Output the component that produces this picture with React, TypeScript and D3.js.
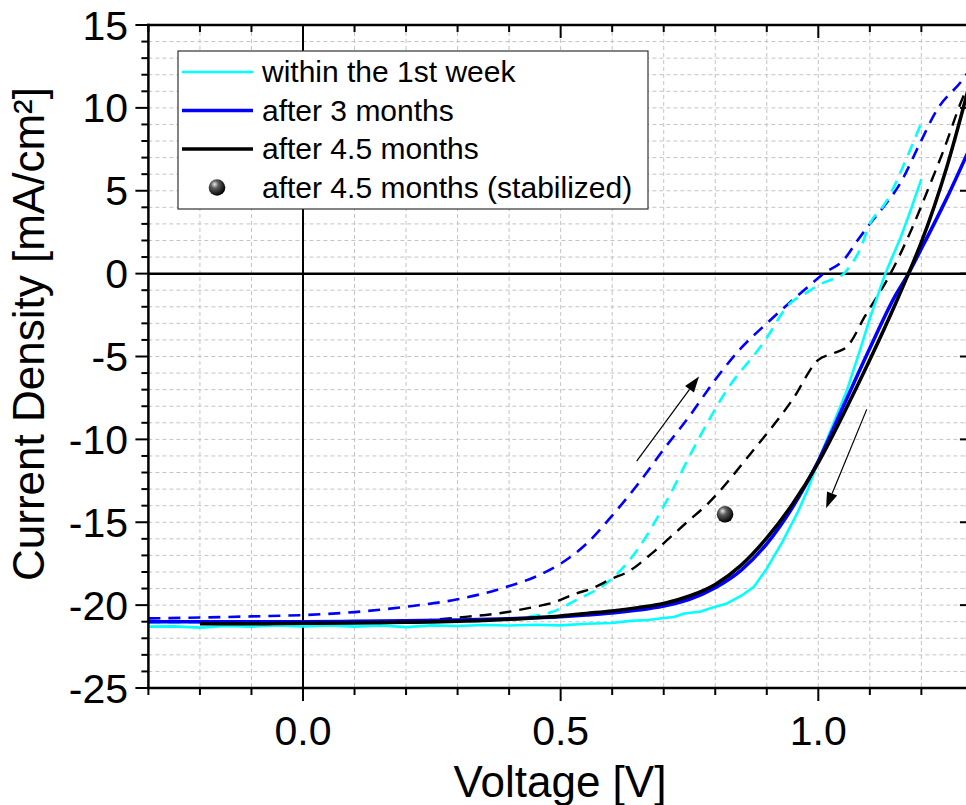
import React from "react";
import * as d3 from "d3";

// ---- data (Voltage [V], Current Density [mA/cm²]) ----
const cyanSolid: [number, number][] = [
  [-0.3, -21.3], [-0.25, -21.28], [-0.2, -21.36], [-0.15, -21.25], [-0.1, -21.3], [-0.05, -21.22],
  [0.0, -21.28], [0.05, -21.22], [0.1, -21.3], [0.15, -21.22], [0.2, -21.33], [0.25, -21.22],
  [0.3, -21.26], [0.35, -21.2], [0.4, -21.23], [0.45, -21.18], [0.5, -21.22], [0.55, -21.12],
  [0.6, -21.08], [0.635, -20.95], [0.67, -20.9], [0.7, -20.78], [0.72, -20.72], [0.74, -20.5],
  [0.77, -20.4], [0.8, -20.1], [0.82, -19.94], [0.85, -19.45], [0.875, -18.9], [0.9, -17.8],
  [0.93, -16.2], [0.96, -14.4], [0.98, -13.0], [1.0, -11.3], [1.03, -9.0], [1.056, -7.0],
  [1.08, -4.7], [1.1, -2.7], [1.13, 0.0], [1.16, 2.2], [1.18, 3.9], [1.2, 5.7],
];
const blueSolid: [number, number][] = [
  [-0.3, -21.0], [-0.2, -21.0], [-0.1, -21.0], [0.0, -21.0], [0.1, -20.98], [0.2, -20.95],
  [0.3, -20.9], [0.4, -20.82], [0.5, -20.7], [0.55, -20.6], [0.6, -20.48], [0.65, -20.3],
  [0.7, -20.05], [0.75, -19.65], [0.8, -18.95], [0.85, -17.9], [0.9, -16.3], [0.95, -14.1],
  [1.0, -11.3], [1.05, -7.9], [1.1, -4.5], [1.15, -1.3], [1.175, 0.0], [1.2, 1.5],
  [1.25, 4.6], [1.3, 8.0],
];
const blackSolid: [number, number][] = [
  [-0.2, -21.12], [-0.1, -21.12], [0.0, -21.1], [0.1, -21.08], [0.2, -21.04], [0.3, -20.98],
  [0.4, -20.85], [0.5, -20.65], [0.55, -20.5], [0.6, -20.35], [0.65, -20.15], [0.7, -19.9],
  [0.75, -19.45], [0.8, -18.75], [0.85, -17.6], [0.9, -15.95], [0.95, -13.9], [1.0, -11.4],
  [1.05, -8.4], [1.1, -5.2], [1.15, -1.8], [1.175, 0.0], [1.2, 1.9], [1.25, 6.5], [1.3, 12.2],
];
const blueDashed: [number, number][] = [
  [-0.3, -20.8], [-0.2, -20.75], [-0.1, -20.68], [0.0, -20.6], [0.1, -20.42], [0.2, -20.1],
  [0.3, -19.65], [0.35, -19.3], [0.4, -18.85], [0.45, -18.3], [0.5, -17.5], [0.55, -16.3],
  [0.6, -14.6], [0.65, -12.7], [0.7, -10.6], [0.75, -8.6], [0.8, -6.4], [0.85, -4.5],
  [0.9, -3.0], [0.95, -1.6], [0.98, -0.8], [1.01, 0.0], [1.05, 0.85], [1.076, 2.0],
  [1.1, 3.0], [1.126, 4.0], [1.159, 5.45], [1.197, 7.85], [1.23, 9.87], [1.28, 11.7], [1.3, 12.6],
];
const cyanDashed: [number, number][] = [
  [-0.3, -21.05], [0.0, -21.05], [0.3, -21.0], [0.4, -20.85], [0.45, -20.65], [0.48, -20.45],
  [0.53, -19.7], [0.6, -18.4], [0.648, -16.7], [0.706, -13.7], [0.757, -10.6],
  [0.823, -7.0], [0.893, -4.2], [0.945, -1.8], [0.98, -1.1], [1.0, -0.7], [1.03, -0.3],
  [1.05, 0.0], [1.06, 0.4], [1.08, 1.4], [1.1, 3.0], [1.13, 4.25], [1.178, 7.45], [1.2, 9.1],
];
const blackDashed: [number, number][] = [
  [-0.2, -21.1], [0.0, -21.1], [0.1, -21.05], [0.2, -21.0], [0.3, -20.75], [0.4, -20.4],
  [0.45, -20.1], [0.48, -19.9], [0.53, -19.3], [0.56, -19.0], [0.6, -18.4], [0.63, -18.0],
  [0.68, -16.8], [0.745, -15.0], [0.785, -13.9], [0.87, -10.8], [0.95, -7.6], [1.0, -5.2],
  [1.03, -4.8], [1.056, -4.4], [1.09, -2.6], [1.14, 0.0], [1.18, 2.6], [1.217, 5.4],
  [1.245, 7.6], [1.275, 10.2], [1.3, 12.0],
];
const stabilizedPoint: [number, number][] = [[0.819, -14.52]];
const arrowUp: [number, number][] = [[0.6476, -11.31], [0.7685, -6.2]];
const arrowDown: [number, number][] = [[1.094, -8.19], [1.015, -14.16]];

const xMajorTicks = [0, 0.5, 1.0];
const xTickLabels = ["0.0", "0.5", "1.0"];
const xMinorTicks = d3.range(-3, 14).map((i) => i / 10);
const yMajorTicks = [-25, -20, -15, -10, -5, 0, 5, 10, 15];
const yTickLabels = ["-25", "-20", "-15", "-10", "-5", "0", "5", "10", "15"];
const yMinorTicks = d3.range(-25, 16);

const legendLabels = [
  "within the 1st week",
  "after 3 months",
  "after 4.5 months",
  "after 4.5 months (stabilized)",
];

const FONT = "'Liberation Sans', Arial, Helvetica, sans-serif";

export default function App() {
  const left = 148.4;
  const right = 972.9;
  const top = 25;
  const bottom = 688;
  const x = d3.scaleLinear().domain([-0.3, 1.3]).range([left, right]);
  const y = d3.scaleLinear().domain([-25, 15]).range([bottom, top]);
  const line = d3
    .line<[number, number]>()
    .x((d) => x(d[0]))
    .y((d) => y(d[1]))
    .curve(d3.curveMonotoneX);
  const rawLine = d3
    .line<[number, number]>()
    .x((d) => x(d[0]))
    .y((d) => y(d[1]));

  const gridColor = "#c4c4c4";
  const dash = "12,8";

  const arrow = (pts: [number, number][], key: string) => {
    const [x0, y0] = [x(pts[0][0]), y(pts[0][1])];
    const [x1, y1] = [x(pts[1][0]), y(pts[1][1])];
    const ang = Math.atan2(y1 - y0, x1 - x0);
    const L = 16, W = 5.5;
    const bx = x1 - L * Math.cos(ang), by = y1 - L * Math.sin(ang);
    const px = -Math.sin(ang), py = Math.cos(ang);
    const head = `M${x1},${y1} L${bx + W * px},${by + W * py} L${bx - W * px},${by - W * py} Z`;
    return (
      <g key={key}>
        <line x1={x0} y1={y0} x2={bx} y2={by} stroke="#000" strokeWidth={1.2} />
        <path d={head} fill="#000" />
      </g>
    );
  };

  const legendX = 178, legendY = 51, legendW = 470, legendH = 158;
  const rowY = [72, 110.5, 149, 187.5];

  return (
    <svg
      width={966}
      height={805}
      style={{ position: "fixed", left: 0, top: 0, background: "#fff" }}
      fontFamily={FONT}
    >
      <defs>
        <radialGradient id="sphere" cx="0.38" cy="0.35" r="0.65" fx="0.35" fy="0.3">
          <stop offset="0" stopColor="#e8e8e8" />
          <stop offset="0.35" stopColor="#606060" />
          <stop offset="1" stopColor="#000" />
        </radialGradient>
        <clipPath id="plotClip">
          <rect x={left} y={top} width={right - left} height={bottom - top} />
        </clipPath>
      </defs>
      <rect x={0} y={0} width={966} height={805} fill="#fff" />

      {/* grid */}
      {xMinorTicks.filter((t) => Math.abs(t) > 1e-9 && t > -0.29).map((t) => (
        <line key={"gx" + t} x1={x(t)} x2={x(t)} y1={top} y2={bottom} stroke={gridColor} strokeWidth={1} strokeDasharray="4,3" />
      ))}
      {yMinorTicks.filter((t) => t !== 0 && t > -25 && t < 15).map((t) => (
        <line key={"gy" + t} x1={left} x2={right} y1={y(t)} y2={y(t)} stroke={gridColor} strokeWidth={1} strokeDasharray="4,3" />
      ))}

      {/* zero lines */}
      <line x1={x(0)} x2={x(0)} y1={top} y2={bottom} stroke="#000" strokeWidth={2} />
      <line x1={left} x2={right} y1={y(0)} y2={y(0)} stroke="#000" strokeWidth={2.5} />

      {/* curves */}
      <g clipPath="url(#plotClip)" fill="none">
        <path d={line(blueDashed) || ""} stroke="#0000ff" strokeWidth={2.6} strokeDasharray={dash} />
        <path d={line(cyanDashed) || ""} stroke="#00ffff" strokeWidth={2.6} strokeDasharray={dash} />
        <path d={line(blackDashed) || ""} stroke="#000" strokeWidth={2.4} strokeDasharray={dash} />
        <path d={rawLine(cyanSolid) || ""} stroke="#00ffff" strokeWidth={2.6} />
        <path d={line(blueSolid) || ""} stroke="#0000ff" strokeWidth={3.5} />
        <path d={line(blackSolid) || ""} stroke="#000" strokeWidth={3.5} />
      </g>

      {/* stabilized point */}
      {stabilizedPoint.map((d, i) => (
        <circle key={"sp" + i} cx={x(d[0])} cy={y(d[1])} r={8.3} fill="url(#sphere)" />
      ))}

      {/* arrows */}
      {arrow(arrowUp, "a1")}
      {arrow(arrowDown, "a2")}

      {/* axes frame */}
      <line x1={left} x2={left} y1={top - 1.2} y2={bottom + 1.2} stroke="#000" strokeWidth={2.5} />
      <line x1={right} x2={right} y1={top - 1.2} y2={bottom + 1.2} stroke="#000" strokeWidth={2.5} />
      <line x1={left - 1.2} x2={right + 1.2} y1={top} y2={top} stroke="#000" strokeWidth={2.5} />
      <line x1={left - 1.2} x2={right + 1.2} y1={bottom} y2={bottom} stroke="#000" strokeWidth={2.5} />

      {/* x ticks bottom (outward) and top (inward) */}
      {xMinorTicks.map((t) => {
        const major = xMajorTicks.some((m) => Math.abs(m - t) < 1e-9);
        const len = major ? 13 : 7;
        return (
          <g key={"xt" + t}>
            <line x1={x(t)} x2={x(t)} y1={bottom} y2={bottom + len} stroke="#000" strokeWidth={2} />
            <line x1={x(t)} x2={x(t)} y1={top} y2={top + len} stroke="#000" strokeWidth={2} />
          </g>
        );
      })}
      {/* y ticks left (outward) and right (inward) */}
      {yMinorTicks.map((t) => {
        const major = yMajorTicks.includes(t);
        const len = major ? 13 : 7;
        return (
          <g key={"yt" + t}>
            <line x1={left - len} x2={left} y1={y(t)} y2={y(t)} stroke="#000" strokeWidth={2} />
            <line x1={right - len} x2={right} y1={y(t)} y2={y(t)} stroke="#000" strokeWidth={2} />
          </g>
        );
      })}

      {/* tick labels */}
      {xMajorTicks.map((t, i) => (
        <text key={"xl" + t} x={x(t)} y={745} fontSize={41} textAnchor="middle" fill="#000">
          {xTickLabels[i]}
        </text>
      ))}
      {yMajorTicks.map((t, i) => (
        <text key={"yl" + t} x={128} y={y(t) + 14.5} fontSize={41} textAnchor="end" fill="#000">
          {yTickLabels[i]}
        </text>
      ))}

      {/* axis titles */}
      <text x={560} y={797} fontSize={44} textAnchor="middle" fill="#000">
        Voltage [V]
      </text>
      <text
        transform={`translate(44,334) rotate(-90)`}
        fontSize={44}
        textAnchor="middle"
        fill="#000"
      >
        Current Density [mA/cm²]
      </text>

      {/* legend */}
      <rect x={legendX} y={legendY} width={legendW} height={legendH} fill="#fff" stroke="#333" strokeWidth={1.2} />
      <line x1={182} x2={253} y1={rowY[0]} y2={rowY[0]} stroke="#00ffff" strokeWidth={2.6} />
      <line x1={182} x2={253} y1={rowY[1]} y2={rowY[1]} stroke="#0000ff" strokeWidth={3.5} />
      <line x1={182} x2={253} y1={rowY[2]} y2={rowY[2]} stroke="#000" strokeWidth={3.5} />
      <circle cx={217} cy={rowY[3]} r={8.3} fill="url(#sphere)" />
      {legendLabels.map((s, i) => (
        <text key={"lg" + i} x={262} y={rowY[i] + 10} fontSize={30} fill="#000">
          {s}
        </text>
      ))}
    </svg>
  );
}
